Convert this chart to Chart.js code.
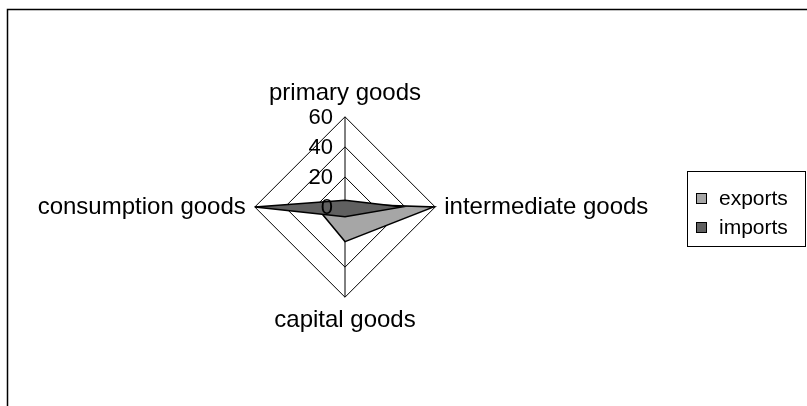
<!DOCTYPE html>
<html>
<head>
<meta charset="utf-8">
<script src="https://cdn.jsdelivr.net/npm/chart.js@4"></script>
<style>
  body { margin: 0; background: #fff; }
  #wrap { width: 807px; height: 406px; position: relative; }
</style>
</head>
<body>
<div id="wrap"><canvas id="chartOfGoods"></canvas></div>
<script>
'use strict';

// data
let categories = ['primary goods', 'intermediate goods', 'capital goods', 'consumption goods'];
let exportValues = [2, 59, 23, 19];
let importValues = [4.5, 38, 6.5, 60];
let tickValues = [0, 20, 40, 60];

let fontFamily = '"Liberation Sans", Arial, sans-serif';

// outer frame (only top and left show in the picture)
let framePlugin = {
  id: 'frame',
  beforeDraw(chart) {
    let c = chart.ctx;
    c.save();
    c.strokeStyle = '#000';
    c.lineWidth = 1.5;
    c.strokeRect(7.5, 9.5, 1000, 1000);
    c.restore();
  }
};

// tick labels sit left of the vertical axis
let tickPlugin = {
  id: 'leftTicks',
  afterDatasetsDraw(chart) {
    let scale = chart.scales.r;
    let c = chart.ctx;
    c.save();
    c.fillStyle = '#000';
    c.font = '22px ' + fontFamily;
    c.textAlign = 'right';
    c.textBaseline = 'middle';
    for (let i = 0; i < tickValues.length; i++) {
      let p = scale.getPointPositionForValue(0, tickValues[i]);
      c.fillText(String(tickValues[i]), p.x - 12, p.y + 1);
    }
    c.restore();
  }
};

// boxed legend on the right
let legendPlugin = {
  id: 'boxLegend',
  afterDraw(chart) {
    let c = chart.ctx;
    c.save();
    c.strokeStyle = '#000';
    c.lineWidth = 1;
    c.strokeRect(687.5, 171.5, 118, 75);
    c.font = '21px ' + fontFamily;
    c.textBaseline = 'middle';
    c.textAlign = 'left';
    let sets = chart.data.datasets;
    for (let i = 0; i < sets.length; i++) {
      let y = 198 + i * 29;
      c.fillStyle = sets[i].backgroundColor;
      c.fillRect(696, y - 5, 10, 10);
      c.strokeRect(696.5, y - 4.5, 10, 10);
      c.fillStyle = '#000';
      c.fillText(sets[i].label, 719, y + 1);
    }
    c.restore();
  }
};

let ctx = document.getElementById('chartOfGoods');

let chartObject = {
  type: 'radar',
  data: {
    labels: categories,
    datasets: [{
      label: 'exports',
      data: exportValues,
      backgroundColor: '#a6a6a6',
      borderColor: '#000',
      borderWidth: 1.5,
      fill: true,
      order: 1
    },
    {
      label: 'imports',
      data: importValues,
      backgroundColor: '#606060',
      borderColor: '#000',
      borderWidth: 1.5,
      fill: true,
      order: 0
    }]
  },
  options: {
    responsive: true,
    maintainAspectRatio: false,
    animation: false,
    layout: {
      padding: { left: 0, right: 117, top: 80, bottom: 70 }
    },
    elements: {
      point: { radius: 0, hoverRadius: 0 },
      line: { tension: 0 }
    },
    scales: {
      r: {
        min: 0,
        max: 60,
        ticks: { stepSize: 20, display: false },
        grid: { color: '#000', lineWidth: 1 },
        angleLines: { color: '#000', lineWidth: 1 },
        pointLabels: {
          color: '#000',
          padding: 9,
          font: { size: 24, family: fontFamily }
        }
      }
    },
    plugins: {
      legend: { display: false },
      tooltip: { enabled: false }
    }
  },
  plugins: [framePlugin, tickPlugin, legendPlugin]
};

const chartOfGoods = new Chart(ctx, chartObject);
</script>
</body>
</html>
